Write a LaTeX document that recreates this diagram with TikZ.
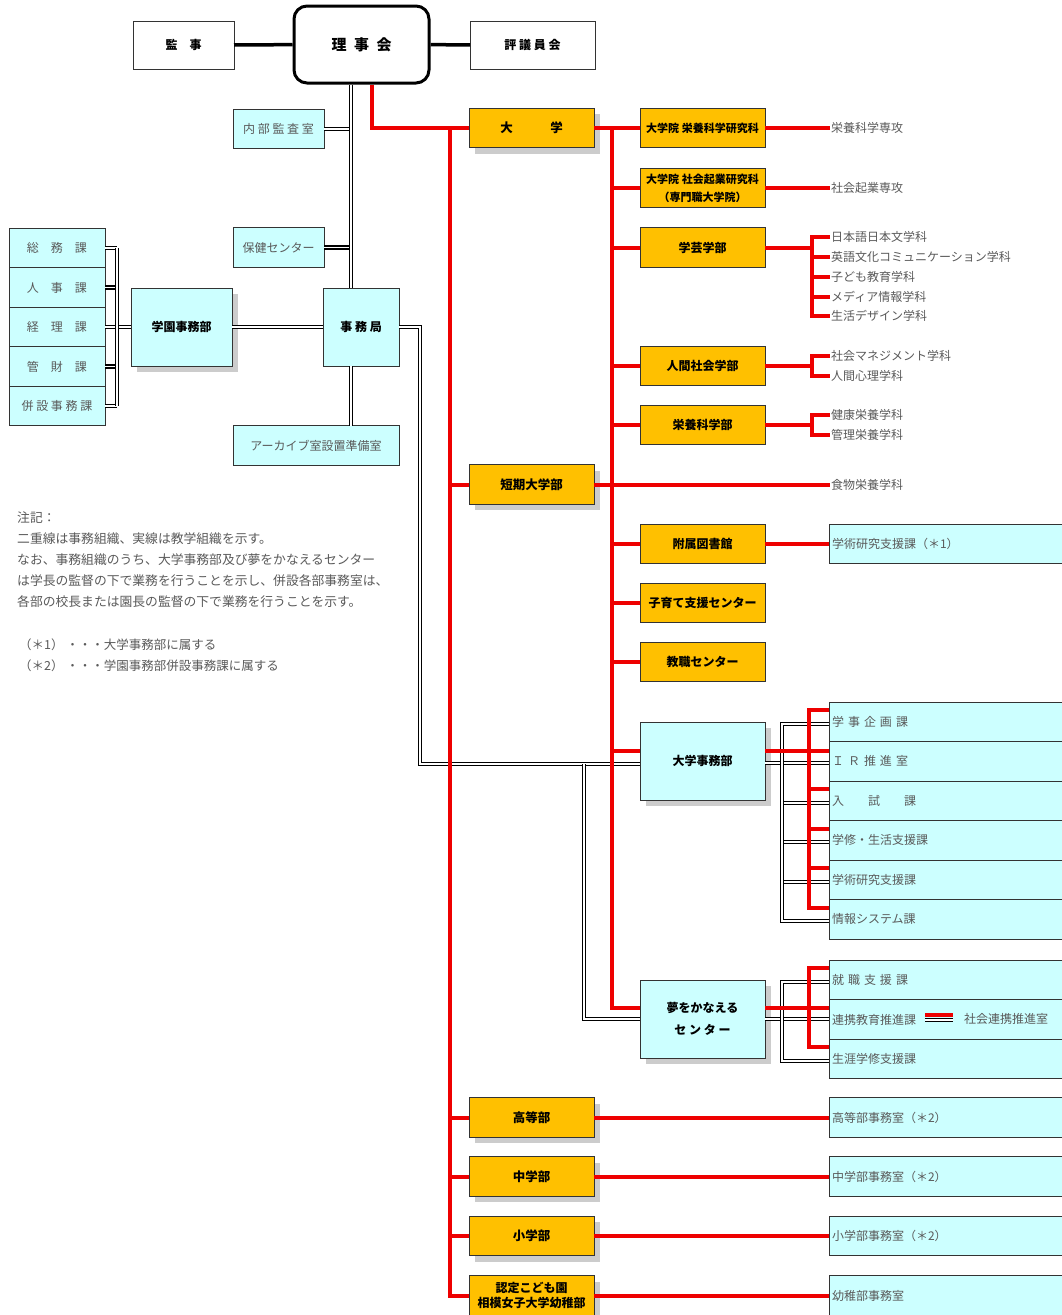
\documentclass[tikz,border=0pt]{standalone}
\usepackage{fontspec}
\setmainfont{Noto Sans CJK JP}
\usetikzlibrary{positioning,shadows}
\definecolor{orng}{RGB}{255,192,0}
\definecolor{cyn}{RGB}{204,255,255}
\definecolor{redc}{RGB}{238,0,0}
\definecolor{bdr}{RGB}{51,51,51}
\definecolor{txt}{RGB}{90,90,90}
\tikzset{
  box/.style={draw=bdr, rectangle, line width=1pt, outer sep=0pt, inner sep=2pt, align=center, minimum height=39.5pt},
  obox/.style={box, fill=orng, minimum width=125pt, font=\bfseries\fontsize{12}{15}\selectfont},
  bigobox/.style={obox, font=\bfseries\fontsize{12.5}{15}\selectfont},
  cbox/.style={box, fill=cyn, text=txt, font=\fontsize{12}{15}\selectfont},
  bbox/.style={box, fill=cyn, font=\bfseries\fontsize{12}{22}\selectfont},
  wbox/.style={box, fill=white, minimum height=48pt, font=\bfseries\fontsize{12}{15}\selectfont},
  rbox/.style={draw=black, fill=white, rectangle, rounded corners=13pt, line width=3pt, minimum width=135pt, minimum height=77pt, font=\bfseries\fontsize{15}{16}\selectfont},
  offbox/.style={cbox, anchor=west, minimum width=239pt, text width=233pt, align=left, inner xsep=3pt},
  lst/.style={anchor=west, inner sep=1pt, text=txt, font=\fontsize{12}{15}\selectfont},
  shd/.style={drop shadow={shadow xshift=6pt, shadow yshift=-6pt, fill=black!20, opacity=1}},
  redl/.style={draw=redc, line width=4pt},
  dbl/.style={draw=black, double=white, double distance=1.6pt, line width=1.3pt},
  thk/.style={draw=black, line width=3.5pt},
}

\begin{document}
\begin{tikzpicture}[x=1pt,y=-1pt]
\path[use as bounding box, fill=white] (0,0) rectangle (1062,1315);
\clip (0,0) rectangle (1062,1315);

% Board
\node[wbox, minimum width=101pt] at (183.5,45) (kanji) {監　事};
\node[rbox] at (361.5,44.5) (rijikai) {理\enspace 事\enspace 会};
\node[wbox, minimum width=125pt] at (532.5,45) (hyogi) {評 議 員 会};

% Administration
\node[cbox, minimum width=91pt] at (278.5,129) (naibu) {内 部 監 査 室};
\node[cbox, minimum width=91pt] at (278.5,247.5) (hoken) {保健センター};
\node[bbox, minimum width=76pt, minimum height=78pt] at (361,327) (jimukyoku) {事 務 局};
\node[cbox, minimum width=166pt] at (316,445.5) (archive) {アーカイブ室設置準備室};
\node[bbox, shd, minimum width=101pt, minimum height=78pt] at (181.5,327) (gakuen) {学園事務部};

\node[cbox, minimum width=96pt] at (57,248) (soumu) {総　務　課};
\node[cbox, minimum width=96pt, below=0pt of soumu] (jinji) {人　事　課};
\node[cbox, minimum width=96pt, below=0pt of jinji] (keiri) {経　理　課};
\node[cbox, minimum width=96pt, below=0pt of keiri] (kanzai) {管　財　課};
\node[cbox, minimum width=96pt, below=0pt of kanzai] (heisetsu) {併 設 事 務 課};

% Note
\node[anchor=north west, inner sep=0pt, align=left, text=txt, font=\fontsize{12.8}{21}\selectfont] at (17,512) (note)
  {注記：\\二重線は事務組織、実線は教学組織を示す。\\なお、事務組織のうち、大学事務部及び夢をかなえるセンター\\は学長の監督の下で業務を行うことを示し、併設各部事務室は、\\各部の校長または園長の監督の下で業務を行うことを示す。};
\node[anchor=north west, inner sep=0pt, align=left, text=txt, font=\fontsize{12.5}{21}\selectfont] at (19,639) (notes)
  {（＊1）\ ・・・大学事務部に属する\\（＊2）\ ・・・学園事務部併設事務課に属する};

% Schools
\node[bigobox, shd] at (531.5,128) (daigaku) {大\hspace{3em}学};
\node[bigobox, shd] at (531.5,484.5) (tanki) {短期大学部};
\node[bigobox, shd] at (531.5,1117.5) (koutou) {高等部};
\node[bigobox, shd] at (531.5,1176.5) (chuu) {中学部};
\node[bigobox, shd] at (531.5,1236) (shou) {小学部};
\node[obox, shd] at (531.5,1295.5) (kodomo) {認定こども園\\相模女子大学幼稚部};

% University
\node[obox, font=\bfseries\fontsize{11}{15}\selectfont] at (702.5,128) (in1) {大学院 栄養科学研究科};
\node[obox, font=\bfseries\fontsize{11}{18}\selectfont] at (702.5,188) (in2) {大学院 社会起業研究科\\（専門職大学院）};
\node[obox] at (702.5,247.5) (gakugei) {学芸学部};
\node[obox] at (702.5,366) (ningen) {人間社会学部};
\node[obox] at (702.5,425) (eiyou) {栄養科学部};
\node[obox] at (702.5,544) (tosho) {附属図書館};
\node[obox] at (702.5,603) (kosodate) {子育て支援センター};
\node[obox] at (702.5,662) (kyoshoku) {教職センター};
\node[bbox, shd, minimum width=125pt, minimum height=78pt] at (702.5,761) (djimu) {大学事務部};
\node[bbox, shd, minimum width=125pt, minimum height=78pt] at (702.5,1019) (yume) {夢をかなえる\\セ ン タ ー};

% Courses
\node[lst] at (830,128) (senkou1) {栄養科学専攻};
\node[lst] at (830,188) (senkou2) {社会起業専攻};
\node[lst] at (830,237) (g1) {日本語日本文学科};
\node[lst] at (830,257) (g2) {英語文化コミュニケーション学科};
\node[lst] at (830,277) (g3) {子ども教育学科};
\node[lst] at (830,297) (g4) {メディア情報学科};
\node[lst] at (830,316) (g5) {生活デザイン学科};
\node[lst] at (830,356) (n1) {社会マネジメント学科};
\node[lst] at (830,376) (n2) {人間心理学科};
\node[lst] at (830,415) (e1) {健康栄養学科};
\node[lst] at (830,435) (e2) {管理栄養学科};
\node[lst] at (830,484.5) (shokumotsu) {食物栄養学科};

% Offices
\node[offbox] at (829,544) (gk1) {学術研究支援課（＊1）};
\node[offbox] at (829,721.75) (o1) {学 事 企 画 課};
\node[offbox, below=0pt of o1] (o2) {Ｉ Ｒ 推 進 室};
\node[offbox, below=0pt of o2] (o3) {入　　試　　課};
\node[offbox, below=0pt of o3] (o4) {学修・生活支援課};
\node[offbox, below=0pt of o4] (o5) {学術研究支援課};
\node[offbox, below=0pt of o5] (o6) {情報システム課};
\node[offbox] at (829,980) (y1) {就 職 支 援 課};
\node[offbox, below=0pt of y1] (y2) {連携教育推進課};
\node[offbox, below=0pt of y2] (y3) {生涯学修支援課};
\node[lst] at (963,1019) (shakai) {社会連携推進室};
\node[offbox] at (829,1117.5) (jk) {高等部事務室（＊2）};
\node[offbox] at (829,1176.5) (ck) {中学部事務室（＊2）};
\node[offbox] at (829,1236) (sk) {小学部事務室（＊2）};
\node[offbox] at (829,1295.5) (yk) {幼稚部事務室};

% Lines
\coordinate (dv) at (351,0);
\coordinate (lv) at (117,0);
\coordinate (jv) at (420,0);
\coordinate (yv) at (584,0);
\coordinate (dy) at (782,0);
\coordinate (rv1) at (450,0);
\coordinate (rv2) at (612,0);
\coordinate (ry) at (809,0);
\coordinate (bx) at (812,0);
\coordinate (symL) at (925,1019);

\draw[thk] (kanji) -- (rijikai);
\draw[thk] (rijikai) -- (hyogi);

% double lines
\draw[dbl] (naibu.east) -- (naibu.east -| dv);
\draw[dbl] (hoken.east) -- (hoken.east -| dv);
\draw[dbl] (dv |- rijikai.south) -- (dv |- jimukyoku.north);
\draw[dbl] (dv |- jimukyoku.south) -- (dv |- archive.north);
\draw[dbl] (gakuen.east) -- (jimukyoku.west);
\foreach \n in {soumu,jinji,kanzai,heisetsu}
  \draw[dbl] (\n.east) -- (\n.east -| lv);
\draw[dbl] (keiri.east) -- (gakuen.west);
\draw[dbl] (lv |- soumu.east) -- (lv |- heisetsu.east);
\draw[dbl] (jimukyoku.east) -| ([yshift=-3pt]jv |- djimu.west) -- ([yshift=-3pt]djimu.west);
\draw[dbl] ([yshift=-3pt]yv |- djimu.west) |- (yume.west);
\draw[dbl] ([yshift=-2pt]djimu.east) -- ([yshift=-2pt]djimu.east -| o2.west);
\foreach \n in {o3,o4,o5}
  \draw[dbl] ([yshift=-2pt]dy |- \n.west) -- ([yshift=-2pt]\n.west);
\draw[dbl] ([yshift=-2pt]o1.west) -| ([yshift=-2pt]dy |- o6.west) -- ([yshift=-2pt]o6.west);
\draw[dbl] (yume.east) -- (yume.east -| y2.west);
\draw[dbl] ([yshift=-2pt]y1.west) -| ([yshift=-2pt]dy |- y3.west) -- ([yshift=-2pt]y3.west);

% red lines
\draw[redl] ([xshift=10.5pt]rijikai.south) |- (daigaku.west);
\draw[redl] (rv1 |- daigaku.west) |- (kodomo.west);
\foreach \n in {tanki,koutou,chuu,shou}
  \draw[redl] (rv1 |- \n.west) -- (\n.west);
\draw[redl] (daigaku.east) -- (in1.west);
\draw[redl] (rv2 |- daigaku.east) |- ([yshift=11pt]yume.west);
\foreach \n in {in2,gakugei,ningen,eiyou,tosho,kosodate,kyoshoku}
  \draw[redl] (rv2 |- \n.west) -- (\n.west);
\draw[redl] ([yshift=10pt]djimu.west -| rv2) -- ([yshift=10pt]djimu.west);
\draw[redl] (tanki.east) -- (tanki.east -| shokumotsu.west);
\draw[redl] (in1.east) -- (in1.east -| senkou1.west);
\draw[redl] (in2.east) -- (in2.east -| senkou2.west);
\draw[redl] (gakugei.east) -- (bx |- gakugei.east);
\draw[redl] (g1.west) -| (bx |- g3.west) |- (g5.west);
\foreach \n in {g2,g3,g4}
  \draw[redl] (bx |- \n.west) -- (\n.west);
\draw[redl] (ningen.east) -- (bx |- ningen.east);
\draw[redl] (n1.west) -| (bx |- n2.west) -- (n2.west);
\draw[redl] (eiyou.east) -- (bx |- eiyou.east);
\draw[redl] (e1.west) -| (bx |- e2.west) -- (e2.west);
\draw[redl] (tosho.east) -- (gk1.west);
\draw[redl] ([yshift=10pt]djimu.east) -- ([yshift=10pt]djimu.east -| o2.west);
\draw[redl] ([yshift=-8pt]o1.north west) -| ([yshift=-8pt]o6.north west -| ry) -- ([yshift=-8pt]o6.north west);
\foreach \n in {o3,o4,o5}
  \draw[redl] ([yshift=-8pt]\n.north west -| ry) -- ([yshift=-8pt]\n.north west);
\draw[redl] ([yshift=11pt]yume.east) -- ([yshift=11pt]yume.east -| y2.west);
\draw[redl] ([yshift=-8pt]y1.north west) -| ([yshift=-8pt]y3.north west -| ry) -- ([yshift=-8pt]y3.north west);
\foreach \a/\b in {koutou/jk,chuu/ck,shou/sk,kodomo/yk}
  \draw[redl] (\a.east) -- (\b.west);

% link mark
\draw[redl, line width=3.5pt] ([yshift=4pt]symL) -- ++(28,0);
\draw[dbl, line width=1.2pt, double distance=1.2pt] ([yshift=-1pt]symL) -- ++(28,0);

\end{tikzpicture}
\end{document}
